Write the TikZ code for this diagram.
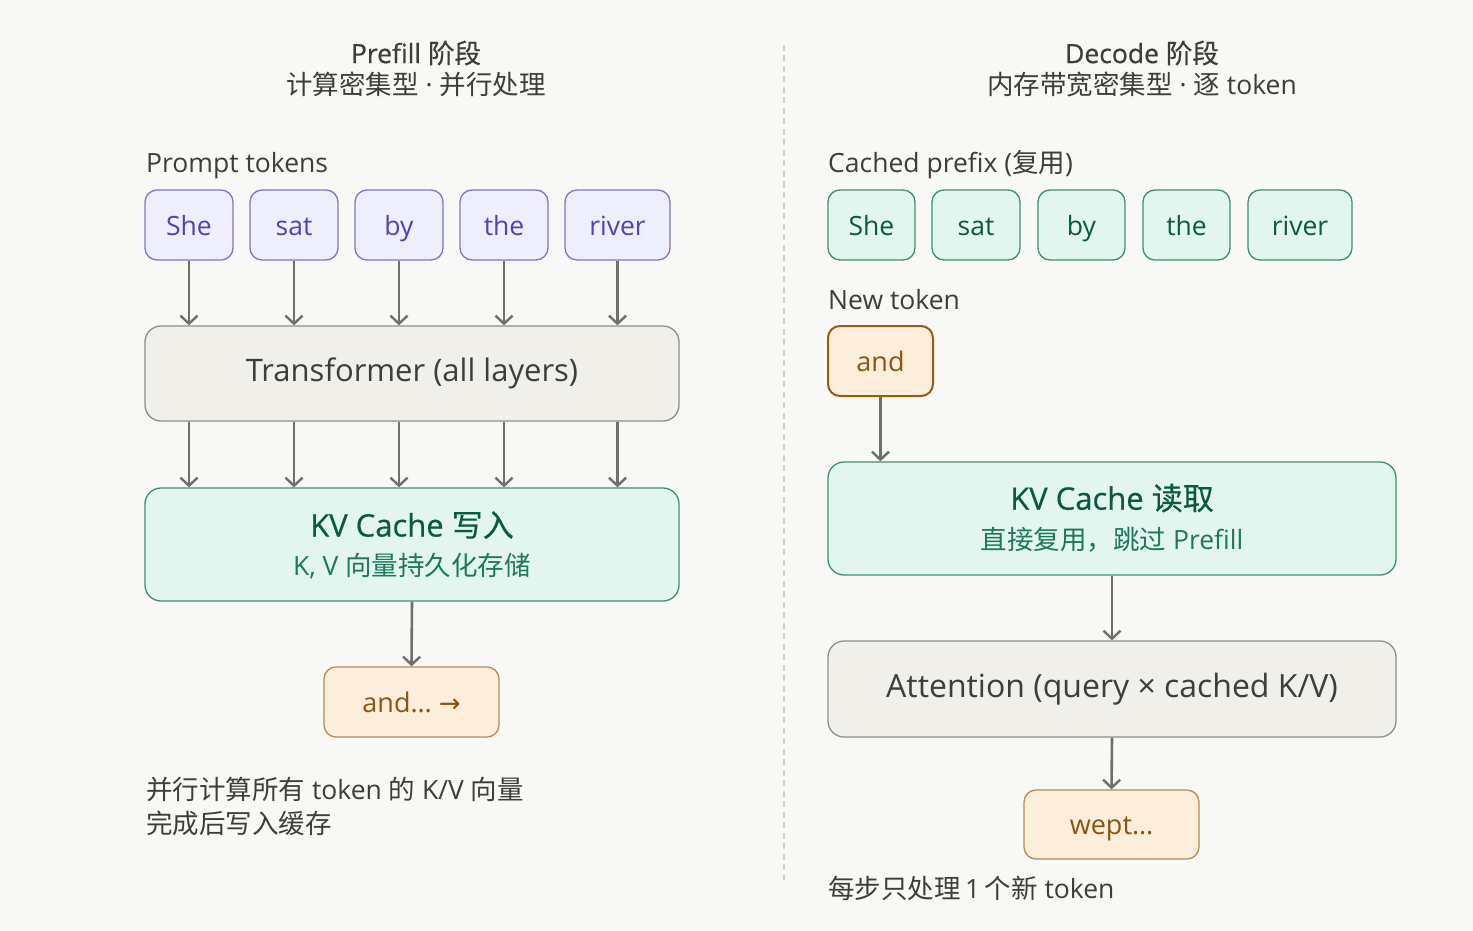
\documentclass[tikz,border=0pt]{standalone}
\usepackage{fontspec}
\setmainfont[Ligatures=NoCommon]{Open Sans}
\newfontfamily\medf[Ligatures=NoCommon,FakeBold=0.5]{Open Sans}
\newfontfamily\cjk{Noto Sans CJK SC}
\newfontfamily\cjkm[FakeBold=0.5]{Noto Sans CJK SC}
\newfontfamily\symf{DejaVu Sans}
\usetikzlibrary{arrows.meta}
\definecolor{bg}{HTML}{F8F8F6}
\definecolor{txt}{HTML}{3D3D3A}
\definecolor{pfill}{HTML}{EEEEFD}
\definecolor{pdraw}{HTML}{7D74D6}
\definecolor{ptxt}{HTML}{4B45B5}
\definecolor{gfill}{HTML}{F0EFEA}
\definecolor{gdraw}{HTML}{8E8D88}
\definecolor{tfill}{HTML}{E2F5EE}
\definecolor{tdraw}{HTML}{3F8F6E}
\definecolor{ttitle}{HTML}{0B5A3F}
\definecolor{tsub}{HTML}{1D7A57}
\definecolor{ofill}{HTML}{FDEEDC}
\definecolor{odraw}{HTML}{B88A55}
\definecolor{odark}{HTML}{9A5A12}
\definecolor{otxt}{HTML}{8A5510}
\definecolor{arr}{HTML}{6F6F6C}
\definecolor{divc}{HTML}{CFCFCB}
\tikzset{
  box/.style={rounded corners=12pt, line width=1.3pt, inner sep=0pt, anchor=center},
  tokfix/.style={text height=22pt, text depth=2pt},
  ptok/.style={box, tokfix, fill=pfill, draw=pdraw, text=ptxt, font=\fontsize{26.5}{30}\selectfont, minimum height=70pt},
  ttok/.style={box, tokfix, fill=tfill, draw=tdraw, text=ttitle, font=\fontsize{26.5}{30}\selectfont, minimum height=70pt},
  gbox/.style={box, rounded corners=16pt, fill=gfill, draw=gdraw, text=txt},
  kbox/.style={box, rounded corners=16pt, fill=tfill, draw=tdraw},
  obox/.style={box, tokfix, fill=ofill, draw=odraw, text=otxt, font=\fontsize{27}{30}\selectfont},
  lbl/.style={inner sep=0pt, text=txt, font=\fontsize{26.5}{30}\selectfont},
  ttl/.style={inner sep=0pt, text=txt, font=\fontsize{26.5}{30}\selectfont},
  arrowline/.style={draw=arr, line width=2.6pt, -{Straight Barb[length=8pt,width=17pt,line width=2.4pt]}},
}
\begin{document}
\begin{tikzpicture}[x=1pt,y=-1pt]
\fill[bg] (0,0) rectangle (1473,931);
\useasboundingbox (0,0) rectangle (1473,931);
% divider
\coordinate (dtop) at (784,45);
\coordinate (dbot) at (784,880);
\draw[divc, line width=2pt, dash pattern=on 6pt off 4.5pt] (dtop) -- (dbot);

% ---------- Left: Prefill ----------
\node[ttl] (t1) at (416,53) {\medf Prefill {\cjkm 阶段}};
\node[ttl] (t1s) at (416,84) {{\cjk 计算密集型} · {\cjk 并行处理}};
\node[lbl, anchor=west] (pl) at (146,166) {Prompt tokens};

\node[ptok, minimum width=88pt] (p1) at (189,225) {She};
\node[ptok, minimum width=88pt] (p2) at (294,225) {sat};
\node[ptok, minimum width=88pt] (p3) at (399,225) {by};
\node[ptok, minimum width=88pt] (p4) at (504,225) {the};
\node[ptok, minimum width=105pt] (p5) at (617.5,225) {river};

\node[gbox, minimum width=534pt, minimum height=95pt, font=\fontsize{31}{36}\selectfont] (tr) at (412,373.5) {Transformer (all layers)};

\node[kbox, minimum width=534pt, minimum height=113pt] (kvL) at (412,544.5) {};
\node[inner sep=0pt, text=ttitle, font=\fontsize{31}{36}\selectfont] (kvLt) at (412,525) {\medf KV Cache {\cjkm 写入}};
\node[inner sep=0pt, text=tsub, font=\fontsize{26.5}{30}\selectfont] (kvLs) at (412,566) {K, V {\cjk 向量持久化存储}};

\node[obox, minimum width=175pt, minimum height=70pt] (oL) at (411.5,702) {and… {\symf\fontsize{26}{26}\selectfont →}};

\foreach \i in {1,...,5}{
  \draw[arrowline] (p\i.south) -- (p\i.south |- tr.north);
  \draw[arrowline] (p\i.south |- tr.south) -- (p\i.south |- kvL.north);
}
\draw[arrowline] (kvL.south) -- (oL.north);

\node[lbl, anchor=west] (nL1) at (146,789) {{\cjk 并行计算所有} token {\cjk 的} K/V {\cjk 向量}};
\node[lbl, anchor=west] (nL2) at (146,823) {\cjk 完成后写入缓存};

% ---------- Right: Decode ----------
\node[ttl] (t2) at (1142,53) {\medf Decode {\cjkm 阶段}};
\node[ttl] (t2s) at (1142,84) {{\cjk 内存带宽密集型} · {\cjk 逐} token};
\node[lbl, anchor=west] (cl) at (828,165) {Cached prefix ({\cjk 复用})};

\node[ttok, minimum width=87pt] (c1) at (871.5,225) {She};
\node[ttok, minimum width=88pt] (c2) at (976,225) {sat};
\node[ttok, minimum width=87pt] (c3) at (1081.5,225) {by};
\node[ttok, minimum width=87pt] (c4) at (1186.5,225) {the};
\node[ttok, minimum width=104pt] (c5) at (1300,225) {river};

\node[lbl, anchor=west] (nl) at (828,300) {New token};
\node[obox, draw=odark, line width=2pt, minimum width=105pt, minimum height=70pt] (nt) at (880.5,361) {and};

\node[kbox, minimum width=568pt, minimum height=113pt] (kvR) at (1112,518.5) {};
\node[inner sep=0pt, text=ttitle, font=\fontsize{31}{36}\selectfont] (kvRt) at (1112,498) {\medf KV Cache {\cjkm 读取}};
\node[inner sep=0pt, text=tsub, font=\fontsize{26.5}{30}\selectfont] (kvRs) at (1112,540) {{\cjk 直接复用，跳过} Prefill};

\node[gbox, minimum width=568pt, minimum height=96pt, font=\fontsize{32}{36}\selectfont] (att) at (1112,689) {Attention (query × cached K/V)};

\node[obox, minimum width=175pt, minimum height=69pt] (oR) at (1111.5,824.5) {wept…};

\draw[arrowline] (nt.south) -- (nt.south |- kvR.north);
\draw[arrowline] (kvR.south) -- (att.north);
\draw[arrowline] (att.south) -- (oR.north);

\node[lbl, anchor=west] (nR) at (828,888) {{\cjk 每步只处理}\,1\,{\cjk 个新} token};
\end{tikzpicture}
\end{document}
